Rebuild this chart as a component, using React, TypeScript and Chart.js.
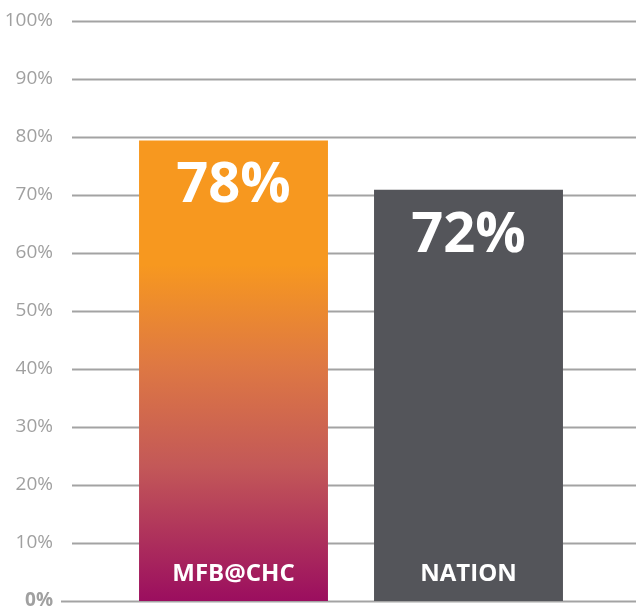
import React, { useEffect, useRef } from "react";
import { Chart, registerables } from "chart.js";

Chart.register(...registerables);

const categories = ["MFB@CHC", "NATION"];
const barValues = [79.4, 70.9];
const valueLabels = ["78%", "72%"];
const yTickValues = [0, 10, 20, 30, 40, 50, 60, 70, 80, 90, 100];

const FONT = "'Open Sans', 'Noto Sans', sans-serif";

const gridPlugin = {
  id: "fullGrid",
  beforeDatasetsDraw(chart: any) {
    const { ctx } = chart;
    const y = chart.scales.y;
    ctx.save();
    ctx.strokeStyle = "#a3a3a3";
    ctx.lineWidth = 1.8;
    yTickValues.forEach((v) => {
      const py = Math.round(y.getPixelForValue(v)) + 0.5;
      ctx.beginPath();
      ctx.moveTo(v === 0 ? 61 : 72, py);
      ctx.lineTo(chart.width, py);
      ctx.stroke();
    });
    ctx.restore();
  },
};

const labelPlugin = {
  id: "barLabels",
  afterDatasetsDraw(chart: any) {
    const { ctx } = chart;
    const meta = chart.getDatasetMeta(0);
    const y0 = chart.scales.y.getPixelForValue(0);
    ctx.save();
    ctx.fillStyle = "#ffffff";
    ctx.textAlign = "center";
    ctx.textBaseline = "middle";
    meta.data.forEach((bar: any, i: number) => {
      ctx.font = `bold 56px ${FONT}`;
      ctx.fillText(valueLabels[i], bar.x, bar.y + 46);
      ctx.font = `bold 24px ${FONT}`;
      ctx.fillText(categories[i], bar.x, y0 - 27);
    });
    ctx.restore();
  },
};

export default function App() {
  const ref = useRef<HTMLCanvasElement>(null);

  useEffect(() => {
    document.body.style.margin = "0";
    const canvas = ref.current!;
    const chart = new Chart(canvas, {
      type: "bar",
      data: {
        labels: categories,
        datasets: [
          {
            data: barValues,
            backgroundColor: (c: any) => {
              const chart = c.chart;
              if (c.dataIndex === 1) return "#54555a";
              if (!chart.chartArea) return "#f7981f";
              const y = chart.scales.y;
              const g = chart.ctx.createLinearGradient(0, y.getPixelForValue(58), 0, y.getPixelForValue(0));
              g.addColorStop(0, "#f7981f");
              g.addColorStop(0.3, "#de7843");
              g.addColorStop(0.6, "#c35858");
              g.addColorStop(1, "#9b0e5f");
              return g;
            },
            borderWidth: 0,
            barPercentage: 0.804,
            categoryPercentage: 1,
          },
        ],
      },
      plugins: [gridPlugin, labelPlugin],
      options: {
        animation: false,
        responsive: false,
        maintainAspectRatio: false,
        events: [],
        layout: { autoPadding: false, padding: { top: 21, bottom: 6, left: 0, right: 50 } },
        plugins: { legend: { display: false }, tooltip: { enabled: false } },
        scales: {
          x: { display: false },
          y: {
            min: 0,
            max: 100,
            border: { display: false },
            grid: { display: false, drawTicks: false },
            afterFit: (s: any) => {
              s.width = 116;
              s.paddingTop = 0;
              s.paddingBottom = 0;
            },
            ticks: {
              stepSize: 10,
              padding: 63,
              color: "#a0a0a0",
              font: (c: any) => ({
                family: FONT,
                size: 19,
                weight: c.tick && c.tick.value === 0 ? "bold" : "normal",
              }),
              callback: (v: any) => `${v}%`,
            },
          },
        },
      },
    });
    return () => chart.destroy();
  }, []);

  return <canvas ref={ref} width={636} height={607} style={{ display: "block" }} />;
}
